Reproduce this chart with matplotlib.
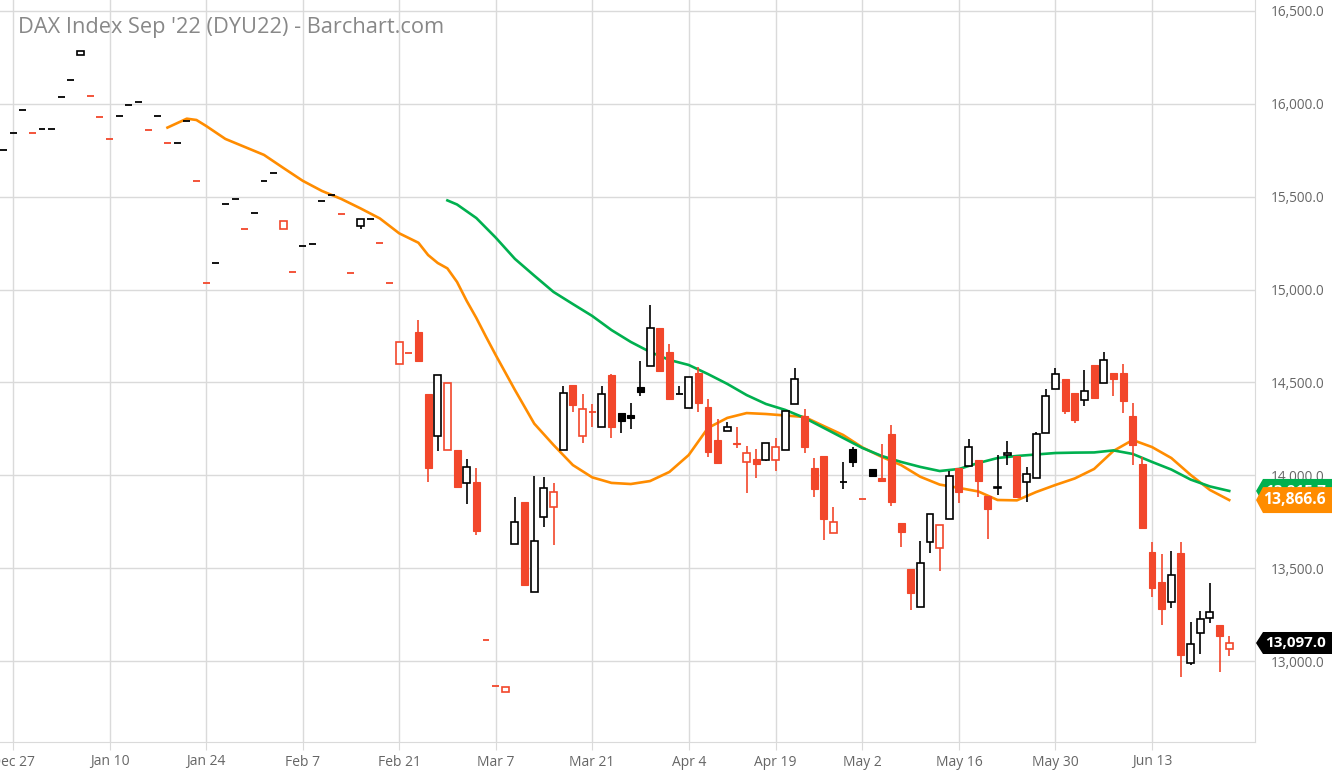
import matplotlib
matplotlib.use("Agg")
import matplotlib.pyplot as plt
import matplotlib.transforms as mtransforms
from matplotlib.patches import Rectangle, Polygon
import pandas as pd

plt.rcParams['font.family'] = ['Open Sans', 'DejaVu Sans']

# trading days on the chart (Eurex holidays taken out)
dates = pd.bdate_range('2021-12-23', '2022-06-23')
dates = dates.drop(pd.to_datetime(['2021-12-24', '2022-04-15', '2022-04-18']))

# daily OHLC
opens = [15750, 15845, 15968, 15843, 15865, 15865, 16037, 16127, 16263, 16041,
         15929, 15809, 15936, 15995, 16010, 15861, 15936, 15789, 15789, 15906,
         15583, 15037, 15141, 15462, 15488, 15325, 15414, 15586, 15626, 15326,
         15095, 15235, 15245, 15478, 15511, 15408, 15089, 15342, 15382, 15249,
         15037, 14599, 14658, 14773, 14438, 14212, 14138, 14138, 13958, 13964,
         13115, 12867, 12833, 13628, 13856, 13373, 13774, 13828, 14136, 14484,
         14210, 14341, 14262, 14540, 14334, 14325, 14477, 14587, 14795, 14664,
         14438, 14364, 14552, 14369, 14192, 14238, 14175, 14073, 14086, 14082,
         14082, 14136, 14384, 14319, 14038, 14104, 13691, 13964, 14140, 13874,
         14035, 13987, 14221, 13743, 13494, 13289, 13642, 13607, 13763, 14038,
         14052, 14082, 13888, 13931, 14109, 14104, 13962, 13984, 14226, 14465,
         14518, 14445, 14404, 14594, 14497, 14549, 14552, 14319, 14061, 13587,
         13425, 13316, 13582, 12989, 13149, 13233, 13194, 13063]
highs = [15750, 15845, 15968, 15843, 15865, 15865, 16037, 16127, 16286, 16041,
         15929, 15809, 15936, 15995, 16010, 15861, 15936, 15789, 15789, 15906,
         15583, 15037, 15141, 15462, 15488, 15325, 15414, 15586, 15626, 15369,
         15095, 15235, 15245, 15478, 15511, 15408, 15089, 15378, 15382, 15249,
         15037, 14719, 14658, 14836, 14438, 14542, 14495, 14138, 14086, 14038,
         13115, 12867, 12860, 13881, 13856, 13996, 13989, 13957, 14483, 14484,
         14438, 14384, 14482, 14545, 14334, 14388, 14617, 14915, 14795, 14705,
         14482, 14529, 14581, 14412, 14303, 14287, 14258, 14158, 14140, 14175,
         14201, 14348, 14576, 14357, 14091, 14104, 13829, 14072, 14154, 13874,
         14035, 14168, 14271, 13743, 13494, 13648, 13793, 13732, 14025, 14038,
         14195, 14082, 13888, 14111, 14185, 14104, 14045, 14231, 14465, 14576,
         14518, 14445, 14567, 14594, 14665, 14549, 14598, 14388, 14097, 13639,
         13575, 13592, 13642, 13210, 13268, 13418, 13194, 13135]
lows = [15750, 15845, 15968, 15843, 15865, 15865, 16037, 16127, 16263, 16041,
        15929, 15809, 15936, 15995, 16010, 15861, 15936, 15789, 15789, 15906,
        15583, 15037, 15141, 15462, 15488, 15325, 15414, 15586, 15626, 15326,
        15095, 15235, 15245, 15478, 15511, 15408, 15089, 15328, 15382, 15249,
        15037, 14599, 14658, 14615, 13965, 14132, 14138, 13938, 13845, 13677,
        13115, 12867, 12833, 13628, 13409, 13373, 13722, 13623, 14136, 14339,
        14174, 14258, 14262, 14199, 14229, 14249, 14427, 14587, 14560, 14409,
        14438, 14364, 14339, 14100, 14064, 14238, 14145, 13903, 13984, 14075,
        14023, 14136, 14384, 14120, 13885, 13652, 13691, 13926, 14046, 13874,
        13996, 13971, 13833, 13616, 13275, 13289, 13580, 13486, 13763, 13852,
        14052, 13885, 13655, 13892, 14055, 13885, 13856, 13984, 14226, 14465,
        14330, 14280, 14375, 14414, 14497, 14427, 14337, 14055, 13718, 13346,
        13194, 13284, 12916, 12978, 13036, 13206, 12942, 13027]
closes = [15750, 15845, 15968, 15843, 15865, 15865, 16037, 16127, 16286, 16041,
          15929, 15809, 15936, 15995, 16010, 15861, 15936, 15789, 15789, 15906,
          15583, 15037, 15141, 15462, 15488, 15325, 15414, 15586, 15626, 15369,
          15095, 15235, 15245, 15478, 15511, 15408, 15089, 15378, 15382, 15249,
          15037, 14719, 14658, 14615, 14038, 14542, 14495, 13938, 14043, 13702,
          13115, 12867, 12860, 13748, 13409, 13644, 13932, 13912, 14445, 14380,
          14357, 14341, 14436, 14260, 14291, 14308, 14450, 14791, 14560, 14409,
          14438, 14529, 14388, 14127, 14064, 14258, 14167, 14122, 14062, 14175,
          14151, 14348, 14517, 14154, 13925, 13766, 13747, 13964, 14070, 13874,
          13996, 13971, 13858, 13696, 13368, 13530, 13793, 13732, 13996, 13910,
          14154, 13971, 13817, 13938, 14118, 13885, 14005, 14221, 14427, 14547,
          14348, 14296, 14454, 14414, 14622, 14518, 14400, 14161, 13718, 13391,
          13278, 13463, 13034, 13093, 13228, 13265, 13135, 13097.0]

# moving averages (trading-day index, value)
ma_orange_idx = [17, 19, 20, 21, 23, 25, 27, 29, 31, 33, 35, 37, 39, 41, 43, 44,
                 45, 46, 47, 48, 49, 50, 51, 53, 55, 57, 59, 61, 63, 65, 67, 69,
                 71, 73, 75, 77, 79, 81, 83, 85, 87, 89, 91, 93, 95, 97, 99, 101,
                 103, 105, 107, 109, 111, 113, 115, 117, 119, 121, 123, 125, 127]
ma_orange = [15872, 15920, 15913, 15881, 15811, 15768, 15725, 15655, 15586, 15531,
             15488, 15437, 15383, 15303, 15252, 15186, 15143, 15114, 15041, 14939,
             14847, 14746, 14648, 14459, 14278, 14163, 14055, 13989, 13959, 13953,
             13969, 14018, 14109, 14255, 14309, 14335, 14330, 14322, 14314, 14265,
             14217, 14150, 14099, 14055, 13992, 13950, 13932, 13913, 13867, 13865,
             13910, 13948, 13983, 14034, 14131, 14190, 14152, 14093, 14002, 13921,
             13866.6]
ma_green_idx = [46, 47, 49, 51, 53, 55, 57, 59, 61, 63, 65, 67, 69, 71, 73, 75,
                77, 79, 81, 83, 85, 87, 89, 91, 93, 95, 97, 99, 101, 103, 105, 107,
                109, 111, 113, 115, 117, 119, 121, 123, 125, 127]
ma_green = [15480, 15458, 15385, 15280, 15165, 15075, 14987, 14922, 14858, 14782,
            14718, 14664, 14621, 14594, 14545, 14492, 14432, 14384, 14352, 14309,
            14255, 14201, 14147, 14104, 14072, 14045, 14023, 14034, 14066, 14093,
            14104, 14112, 14120, 14122, 14123, 14134, 14115, 14072, 14031, 13977,
            13940, 13915.7]

tick_dates = ['2021-12-27', '2022-01-10', '2022-01-24', '2022-02-07', '2022-02-21',
              '2022-03-07', '2022-03-21', '2022-04-04', '2022-04-19', '2022-05-02',
              '2022-05-16', '2022-05-30', '2022-06-13']
price_ticks = [13000, 13500, 14000, 14500, 15000, 15500, 16000, 16500]

RED = '#f2472b'
BLACK = '#000000'
ORANGE = '#ff8c00'
GREEN = '#00b04f'
GRID = '#dadada'

fig = plt.figure(figsize=(13.32, 7.74), dpi=100)
ax = fig.add_axes([0, 32 / 774, 1255 / 1332, 742 / 774])

# index 0 = first trading day shown (Dec 23)
pos = list(range(len(dates)))
ax.set_xlim(-0.35, 129.67)
ax.set_ylim(12564, 16559)

ax.plot(ma_orange_idx, ma_orange, color=ORANGE, lw=1.9, zorder=2, solid_joinstyle='round')
ax.plot(ma_green_idx, ma_green, color=GREEN, lw=1.9, zorder=2, solid_joinstyle='round')

w = 0.72
prev = closes[0]
for x, o, h, l, c in zip(pos, opens, highs, lows, closes):
    col = RED if c < prev else BLACK
    prev = c
    if h > max(o, c) or l < min(o, c):
        ax.vlines(x, l, h, color=col, lw=1.2, zorder=3)
    if o == c:
        ax.hlines(o, x - w / 2, x + w / 2, color=col, lw=1.3, zorder=4)
    elif c > o:
        ax.add_patch(Rectangle((x - w / 2, o), w, c - o, facecolor='white',
                               edgecolor=col, lw=1.2, zorder=4))
    else:
        ax.add_patch(Rectangle((x - w / 2, c), w, o - c, facecolor=col,
                               edgecolor=col, lw=0.8, zorder=4))

tick_pos = [dates.get_loc(pd.Timestamp(d)) for d in tick_dates]
tick_lab = [pd.Timestamp(d).strftime('%b %-d') for d in tick_dates]
ax.set_xticks(tick_pos)
ax.set_xticklabels(tick_lab)
ax.set_yticks(price_ticks)
ax.set_yticklabels([f'{v:,.1f}' for v in price_ticks])
ax.yaxis.tick_right()
ax.grid(True, color=GRID, lw=1, zorder=0)
ax.set_axisbelow(True)
ax.tick_params(axis='x', length=6, color=GRID, pad=3, labelsize=10, labelcolor='#666666')
ax.tick_params(axis='y', length=0, pad=11, labelsize=9.8, labelcolor='#666666')
for s in ['top', 'left']:
    ax.spines[s].set_visible(False)
for s in ['bottom', 'right']:
    ax.spines[s].set_color(GRID)

ax.text(18 / 1255, 1 - 27 / 742, "DAX Index Sep '22 (DYU22) - Barchart.com",
        transform=ax.transAxes, fontsize=15.7, color='#888888', va='center', ha='left')

# last-value tags on the price scale, later ones stacked on top
trans = mtransforms.blended_transform_factory(fig.transFigure, ax.transData)
ppx = (16559 - 12564) / 742.0


def tag(value, color, hh_px, size, z):
    hh = hh_px * ppx
    x0, x1, x2 = 1256 / 1332, 1263 / 1332, 1.0
    ax.add_patch(Polygon([(x0, value), (x1, value + hh), (x2, value + hh),
                          (x2, value - hh), (x1, value - hh)], closed=True,
                         facecolor=color, edgecolor='none', transform=trans,
                         clip_on=False, zorder=z))
    ax.text(1326 / 1332, value, f'{value:,.1f}', transform=trans, ha='right',
            va='center', color='white', fontsize=size, fontweight='bold',
            clip_on=False, zorder=z + 0.5)


tag(ma_green[-1], GREEN, 12, 11, 10)
tag(ma_orange[-1], ORANGE, 13, 11.3, 11)
tag(closes[-1], BLACK, 11, 11, 12)

fig.savefig('out.png', dpi=100)
